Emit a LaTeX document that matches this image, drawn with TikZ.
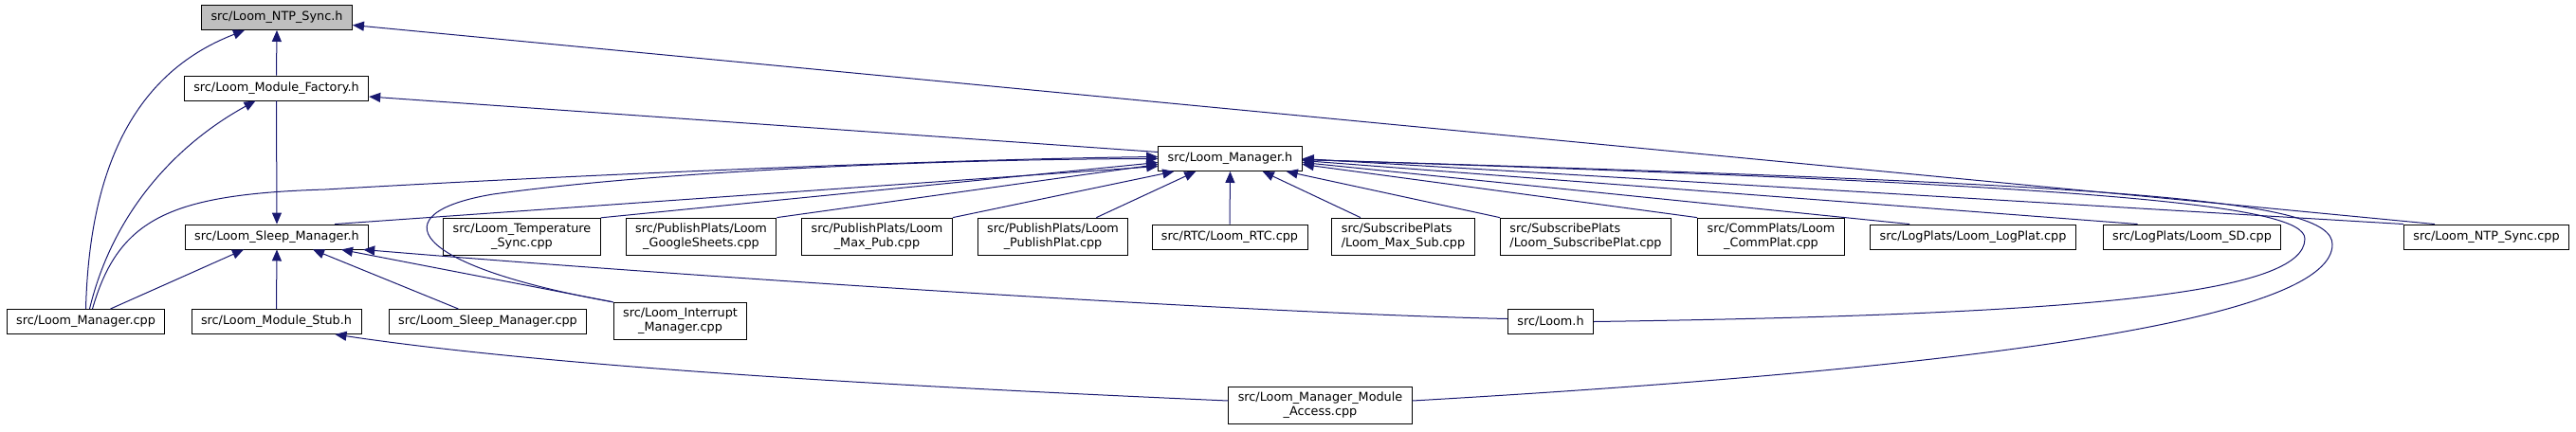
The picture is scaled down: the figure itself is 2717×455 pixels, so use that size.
\documentclass[tikz,border=0pt]{standalone}
\usepackage{fontspec}
\setmainfont{DejaVu Sans}
\usepackage{xcolor}
\usepackage{tikz}
\usetikzlibrary{calc,arrows.meta}
\definecolor{midnight}{RGB}{25,25,112}
\definecolor{focusgray}{RGB}{191,191,191}

\tikzset{
  filebox/.style={draw=black, line width=0.7pt, fill=white, inner xsep=7.5pt, inner ysep=4.5pt,
    minimum height=19.5pt, font=\fontsize{9.6}{11.3}\selectfont, align=center},
  incl/.style={draw=midnight, line width=0.75pt, -{Triangle[length=9pt,width=7.5pt]}},
}

\begin{document}
\begin{tikzpicture}[x=0.75pt, y=-0.75pt]
        \useasboundingbox (0,0) rectangle (2717,455);

        % Headers
        \node[filebox, fill=focusgray] (ntph) at (292,18.5) {src/Loom\_NTP\_Sync.h};
        \node[filebox] (factory) at (291.5,93) {src/Loom\_Module\_Factory.h};
        \node[filebox] (sleeph) at (292,250) {src/Loom\_Sleep\_Manager.h};
        \node[filebox] (managerh) at (1297.5,167.5) {src/Loom\_Manager.h};
        \node[filebox] (stub) at (291.5,339.5) {src/Loom\_Module\_Stub.h};
        \node[filebox] (loomh) at (1635.5,339.5) {src/Loom.h};

        % Source files, bottom left
        \node[filebox] (managercpp) at (90.5,339.5) {src/Loom\_Manager.cpp};
        \node[filebox] (sleepcpp) at (514.5,339.5) {src/Loom\_Sleep\_Manager.cpp};
        \node[filebox] (interrupt) at (717.5,339) {src/Loom\_Interrupt\\\_Manager.cpp};
        \node[filebox] (access) at (1392.5,428) {src/Loom\_Manager\_Module\\\_Access.cpp};

        % Source files, middle row
        \node[filebox] (temp) at (550.5,250) {src/Loom\_Temperature\\\_Sync.cpp};
        \node[filebox] (gsheets) at (739.5,250) {src/PublishPlats/Loom\\\_GoogleSheets.cpp};
        \node[filebox] (maxpub) at (925,250) {src/PublishPlats/Loom\\\_Max\_Pub.cpp};
        \node[filebox] (publishplat) at (1110.5,250) {src/PublishPlats/Loom\\\_PublishPlat.cpp};
        \node[filebox] (rtc) at (1297,250) {src/RTC/Loom\_RTC.cpp};
        \node[filebox, align=left] (maxsub) at (1480,250) {src/SubscribePlats\\/Loom\_Max\_Sub.cpp};
        \node[filebox, align=left] (subplat) at (1672.5,250) {src/SubscribePlats\\/Loom\_SubscribePlat.cpp};
        \node[filebox] (commplat) at (1868,250) {src/CommPlats/Loom\\\_CommPlat.cpp};
        \node[filebox] (logplat) at (2081,250) {src/LogPlats/Loom\_LogPlat.cpp};
        \node[filebox] (sd) at (2312,250) {src/LogPlats/Loom\_SD.cpp};
        \node[filebox] (ntpcpp) at (2622.5,250) {src/Loom\_NTP\_Sync.cpp};

        % Into Loom_NTP_Sync.h
        \draw[incl] (factory.north) -- (ntph.south);
        \draw[incl] (managercpp.north) .. controls (95,150) and (160,70) .. ($(ntph.south)+(-34,0)$);
        \draw[incl] ($(ntpcpp.north west)+(33,0)$) -- ($(ntph.east)+(0,8)$);

        % Into Loom_Module_Factory.h
        \draw[incl] ($(managercpp.north)+(4,0)$) .. controls (120,220) and (190,150) .. ($(factory.south)+(-22,0)$);
        \draw[incl] ($(managerh.west)+(0,-7)$) -- ($(factory.east)+(0,9)$);

        % Into Loom_Sleep_Manager.h
        \draw[incl] (factory.south) -- (sleeph.north);
        \draw[incl] ($(managercpp.north)+(26,0)$) -- ($(sleeph.south)+(-35,0)$);
        \draw[incl] (stub.north) -- (sleeph.south);
        \draw[incl] ($(sleepcpp.north)+(-31,0)$) -- ($(sleeph.south)+(38,0)$);
        \draw[incl] (interrupt.north west) -- ($(sleeph.south)+(68,0)$);
        \draw[incl] ($(loomh.west)+(0,-3)$) .. controls (1300,330) and (700,290) .. ($(sleeph.south east)+(-6,0)$);

        % Into Loom_Module_Stub.h
        \draw[incl] ($(access.west)+(0,-5)$) .. controls (1000,410) and (600,390) .. ($(stub.south)+(62,0)$);

        % Into Loom_Manager.h, left side
        \draw[incl] ($(sleeph.north)+(61,0)$) -- ($(managerh.west)+(0,8)$);
        \draw[incl] ($(managercpp.north)+(7,0)$) .. controls (125,230) and (180,205) .. (343,200)
              .. controls (600,185) and (1000,168) .. ($(managerh.west)+(0,-2)$);
        \draw[incl] (interrupt.north west) .. controls (430,280) and (400,225) .. (520,205)
              .. controls (700,180) and (1000,168) .. (managerh.west);
        \draw[incl] (temp.north east) -- ($(managerh.west)+(0,4)$);
        \draw[incl] (gsheets.north east) -- ($(managerh.west)+(0,6)$);
        \draw[incl] (maxpub.north east) -- ($(managerh.south west)+(17,0)$);
        \draw[incl] ($(publishplat.north east)+(-34,0)$) -- ($(managerh.south west)+(40,0)$);
        \draw[incl] (rtc.north) -- (managerh.south);

        % Into Loom_Manager.h, right side
        \draw[incl] ($(maxsub.north)+(-45,0)$) -- ($(managerh.south east)+(-42,0)$);
        \draw[incl] (subplat.north west) -- ($(managerh.south east)+(-17,0)$);
        \draw[incl] (commplat.north west) -- ($(managerh.east)+(0,6)$);
        \draw[incl] ($(logplat.north west)+(42,0)$) -- ($(managerh.east)+(0,4)$);
        \draw[incl] ($(sd.north west)+(37,0)$) -- ($(managerh.east)+(0,2)$);
        \draw[incl] (ntpcpp.north west) -- (managerh.east);
        \draw[incl] (loomh.east) .. controls (2200,332) and (2431,310) .. (2431,252)
              .. controls (2431,215) and (2200,195) .. ($(managerh.east)+(0,1)$);
        \draw[incl] ($(access.east)+(0,-5)$) .. controls (2150,385) and (2460,330) .. (2460,258)
              .. controls (2460,210) and (2250,195) .. ($(managerh.east)+(0,1)$);

    \end{tikzpicture}
\end{document}
